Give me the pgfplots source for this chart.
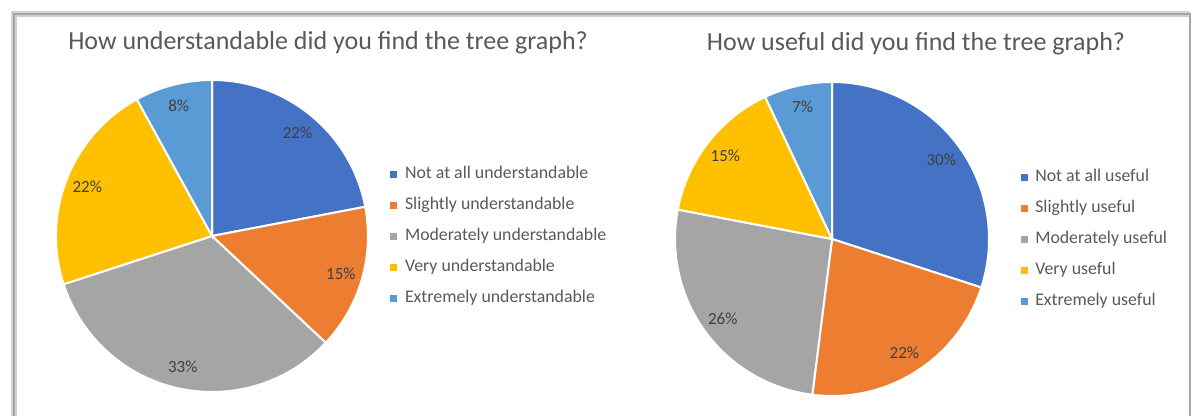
\documentclass[border=0pt]{standalone}
\usepackage{pgfplots}
\usepackage{pgfplotstable}
\pgfplotsset{compat=1.18}
\usepackage{fontspec}
\setmainfont{Carlito}

\definecolor{c0}{HTML}{4472C4}
\definecolor{c1}{HTML}{ED7D31}
\definecolor{c2}{HTML}{A5A5A5}
\definecolor{c3}{HTML}{FFC000}
\definecolor{c4}{HTML}{5B9BD5}
\definecolor{txt}{HTML}{595959}
\definecolor{lbl}{HTML}{404040}

\pgfplotstableread{
pct
22
15
33
22
8
}\understand

\pgfplotstableread{
pct
30
22
26
15
7
}\useful

% slices clockwise from 12 o'clock, radius given in pt (= 1 axis unit)
\newcommand\drawpie[2]{%
  \def\cum{90}%
  \pgfplotsforeachungrouped \i in {0,...,4}{%
    \pgfplotstablegetelem{\i}{pct}\of{#1}\let\v\pgfplotsretval
    \pgfmathsetmacro\a{\cum}%
    \pgfmathsetmacro\b{\cum-3.6*\v}%
    \pgfmathsetmacro\m{(\a+\b)/2}%
    \edef\temp{%
      \noexpand\fill[c\i, draw=white, line width=1pt]
        (axis cs:0,0) -- (axis cs:{cos(\a)},{sin(\a)})
        arc[start angle=\a, end angle=\b, radius=#2] -- cycle;
      \noexpand\node[font=\noexpand\fontsize{8.5}{10}\noexpand\selectfont, text=lbl]
        at (axis cs:{0.86*cos(\m)},{0.86*sin(\m)}) {\v\noexpand\%};}%
    \temp
    \let\cum\b
  }}

\pgfplotsset{
  piestyle/.style={
    hide axis, clip=false, anchor=center,
    xmin=-1, xmax=1, ymin=-1, ymax=1,
    legend cell align=left,
    legend image code/.code={\fill[##1] (0pt,-1.5pt) rectangle (3pt,1.5pt);},
    legend style={draw=none, fill=none, anchor=west, inner sep=0pt,
      row sep=3.8pt, column sep=2pt, font=\fontsize{8.9}{10.5}\selectfont, text=txt},
  }
}

\begin{document}
\begin{tikzpicture}
\useasboundingbox (0,0) rectangle (596pt,-208pt);
% frame
\draw[gray!35, line width=3pt] (6.8pt,-260pt) -- (6.8pt,-6.8pt) -- (595pt,-6.8pt);
\draw[gray!70, line width=0.8pt] (7pt,-260pt) -- (7pt,-7pt) -- (595pt,-7pt) -- (595pt,-260pt);

\begin{axis}[piestyle, x=78pt, y=78pt, at={(106pt,-118pt)},
  legend style={at={(axis description cs:1.07,0.5)}}]
  \drawpie{\understand}{78pt}
  \addlegendimage{c0}\addlegendentry{Not at all understandable}
  \addlegendimage{c1}\addlegendentry{Slightly understandable}
  \addlegendimage{c2}\addlegendentry{Moderately understandable}
  \addlegendimage{c3}\addlegendentry{Very understandable}
  \addlegendimage{c4}\addlegendentry{Extremely understandable}
  \node[font=\fontsize{13}{15}\selectfont, text=txt] at (axis cs:0.744,1.237)
    {How understandable did you find the tree graph?};
\end{axis}

\begin{axis}[piestyle, x=78.5pt, y=78.5pt, at={(416pt,-119.5pt)},
  legend style={at={(axis description cs:1.099,0.5)}}]
  \drawpie{\useful}{78.5pt}
  \addlegendimage{c0}\addlegendentry{Not at all useful}
  \addlegendimage{c1}\addlegendentry{Slightly useful}
  \addlegendimage{c2}\addlegendentry{Moderately useful}
  \addlegendimage{c3}\addlegendentry{Very useful}
  \addlegendimage{c4}\addlegendentry{Extremely useful}
  \node[font=\fontsize{13}{15}\selectfont, text=txt] at (axis cs:0.535,1.242)
    {How useful did you find the tree graph?};
\end{axis}
\end{tikzpicture}
\end{document}
